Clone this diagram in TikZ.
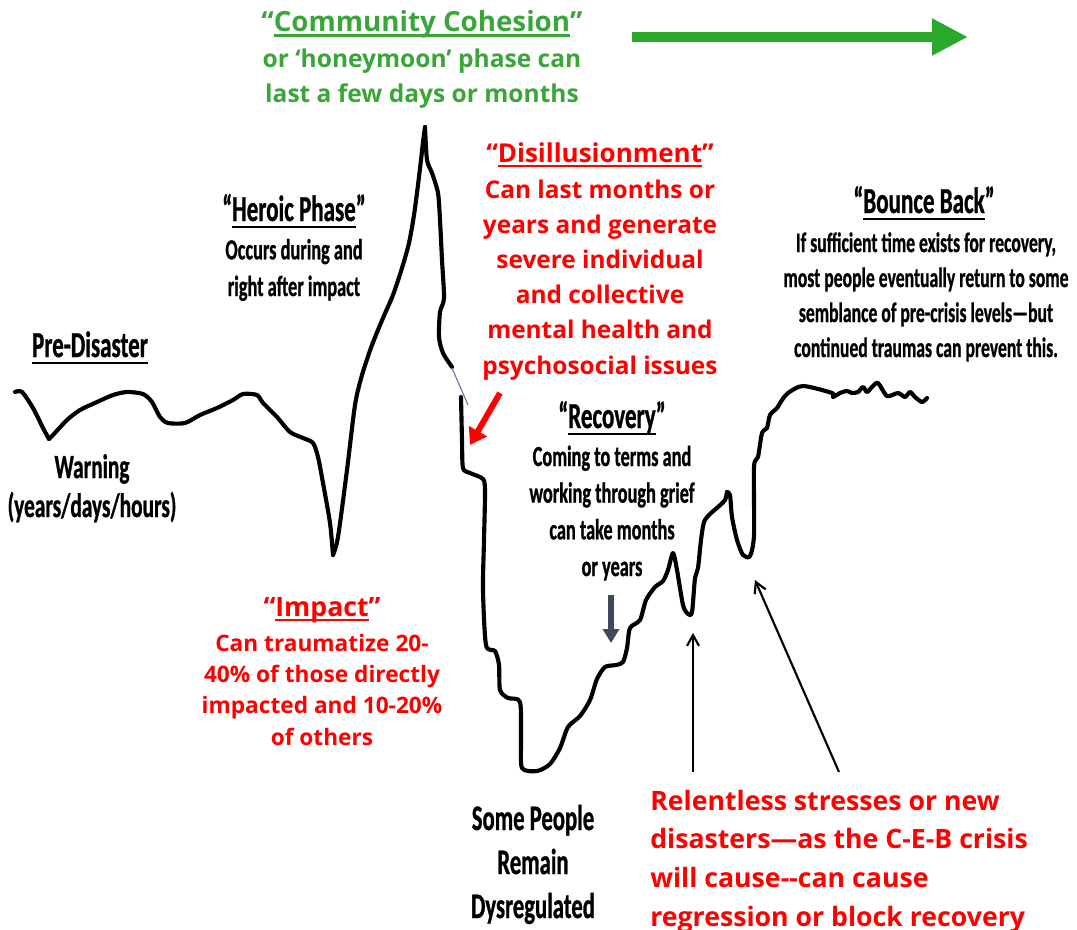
\documentclass[tikz,border=0pt]{standalone}
\usepackage{fontspec}
\usepackage{tikz}
\usetikzlibrary{arrows.meta}
\newfontfamily\opsans{Open Sans}
\newfontfamily\carcond[FakeStretch=0.63, BoldFeatures={FakeBold=0.8}]{Carlito}
\definecolor{grn}{HTML}{3AA63A}
\definecolor{grnar}{HTML}{2BA82B}
\definecolor{rd}{HTML}{FF0000}
\definecolor{slate}{HTML}{3E4A5B}
\definecolor{lil}{HTML}{8A6FB5}
\newcommand\ulw[1]{\setbox0\hbox{#1}\rlap{\rule[-0.2em]{\wd0}{0.075em}}\box0}
\newcommand\fsz[2]{\fontsize{#1}{#2}\selectfont}
\tikzset{
  txt/.style     ={inner sep=0pt, align=center, anchor=base},
  grtitle/.style ={txt, text=grn, font=\opsans\bfseries\fsz{20.8pt}{26pt}},
  grbody/.style  ={txt, text=grn, font=\opsans\bfseries\fsz{18.4pt}{26.25pt}},
  rdtitle/.style ={txt, text=rd, font=\opsans\bfseries\fsz{19.5pt}{26pt}},
  rdbody/.style  ={txt, text=rd, font=\opsans\bfseries\fsz{18.3pt}{26.4pt}},
  imptitle/.style={txt, text=rd, font=\opsans\bfseries\fsz{20pt}{26pt}},
  impbody/.style ={txt, text=rd, font=\opsans\bfseries\fsz{17pt}{23.5pt}},
  reltxt/.style  ={txt, align=left, anchor=base west, text=rd, font=\opsans\bfseries\fsz{20pt}{28.9pt}},
  bktitle/.style ={txt, font=\carcond\bfseries\fsz{27.4pt}{30pt}},
  bkbody/.style  ={txt, font=\carcond\bfseries\fsz{21.8pt}{27.5pt}},
  bksmall/.style ={txt, font=\carcond\bfseries\fsz{21pt}{26.25pt}},
  bkwarn/.style  ={txt, font=\carcond\bfseries\fsz{25.4pt}{29.25pt}},
  bkbig/.style   ={txt, font=\carcond\bfseries\fsz{27pt}{33pt}},
  curve/.style   ={line width=3.1pt, line cap=round, line join=round},
  grar/.style    ={-{Triangle[length=27pt,width=26pt]}, line width=8pt, draw=grnar},
  rdar/.style    ={-{Triangle[length=12pt,width=15pt]}, line width=4.5pt, draw=rd},
  slar/.style    ={-{Triangle[length=10.5pt,width=12pt]}, line width=5pt, draw=slate},
  bkar/.style    ={-{Straight Barb[length=8pt,width=9pt]}, line width=1.6pt},
}
\begin{document}
\begin{tikzpicture}[x=0.75pt,y=-0.75pt]
\useasboundingbox (0,0) rectangle (1077,929);
\node[grtitle] (cohtitle) at (422,31) {“\ulw{Community Cohesion}”};
\node[grbody] (cohbody) at (422,102) {or ‘honeymoon’ phase can\\last a few days or months};
\node[rdtitle] (distitle) at (600,162) {“\ulw{Disillusionment}”};
\node[rdbody] (disbody) at (600,374)
  {Can last months or\\years and generate\\severe individual\\and collective\\mental health and\\psychosocial issues};
\node[bktitle] (herotitle) at (294,221) {“\ulw{Heroic Phase}”};
\node[bkbody] (herobody) at (294,296) {Occurs during and\\right after impact};
\node[bktitle] (pretitle) at (90,357) {\ulw{Pre-Disaster}};
\node[bkwarn] (warning) at (92,517) {Warning\\(years/days/hours)};
\node[imptitle] (imptitle) at (322,616) {“\ulw{Impact}”};
\node[impbody] (impbody) at (322,745)
  {Can traumatize 20-\\40\% of those directly\\impacted and 10-20\%\\of others};
\node[bktitle] (rectitle) at (612,428) {“\ulw{Recovery}”};
\node[bkbody] (recbody) at (612,576)
  {Coming to terms and\\working through grief\\can take months\\or years};
\node[bktitle] (boutitle) at (924,213) {“\ulw{Bounce Back}”};
\node[bksmall] (boubody) at (926,357)
  {If sufficient time exists for recovery,\\most people eventually return to some\\semblance of pre-crisis levels—but\\continued traumas can prevent this.};
\node[bkbig] (remain) at (533,918) {Some People\\Remain\\Dysregulated};
\node[reltxt] (relent) at (650,926)
  {Relentless stresses or new\\disasters—as the C-E-B crisis\\will cause-{}-can cause\\regression or block recovery};
\draw[curve] plot[smooth, tension=0.45] coordinates {(15,392) (22,392) (33,408) (43,428) (49,439)};
\draw[curve] plot[smooth, tension=0.45] coordinates {(49,439) (53,435) (67,420) (80,410) (97,402)
  (113,395) (127,392) (143,394) (152,402) (160,417) (168,423) (185,423) (200,415) (217,408)
  (233,400) (243,394) (257,395) (263,403) (277,417) (290,432) (303,438) (313,443) (318,457)
  (323,483) (330,523) (333,555)};
\draw[curve] plot[smooth, tension=0.45] coordinates {(333,555) (338,537) (347,470) (355,405)
  (362,375) (372,345) (383,318) (393,295) (402,268) (409,243) (414,215) (418,185) (421,160)
  (423,142) (425,127)};
\draw[curve] plot[smooth, tension=0.45] coordinates {(425,127) (427,160) (432,173) (438,193)
  (440,220) (442,260) (444,298) (440,312) (439,337) (443,353) (452,367)};
\draw[curve] plot[smooth, tension=0.45] coordinates {(461,397) (462,440) (463,468) (470,473)
  (483,479) (485,492) (484,540) (483,590) (486,645) (495,651) (499,665) (500,690) (508,698)
  (520,702) (521,740) (522,768) (537,771) (550,764) (560,748) (568,727) (580,716) (590,700)
  (597,679) (605,667) (616,665) (623,662) (627,648) (630,628) (640,620) (646,600) (655,587)
  (663,581) (668,570) (673,553) (677,570) (683,605) (688,614) (692,612) (695,578) (698,568)
  (701,540) (704,522) (710,514) (718,507) (725,500) (727,492)};
\draw[curve] plot[smooth, tension=0.45] coordinates {(727,492) (730,495) (732,517) (737,540)
  (743,555) (750,556) (754,535) (754,467) (758,457) (762,433) (767,428) (770,415) (777,408)
  (782,400) (788,393) (803,386) (832,393) (833,397) (840,393) (847,391) (852,393) (858,392)
  (863,387) (867,392) (872,387) (878,383) (887,396) (898,393) (905,397) (910,392) (915,397)
  (922,402) (927,398)};
\coordinate (grA) at (632,37);
\coordinate (grB) at (968,37);
\coordinate (rdA) at (500,393);
\coordinate (rdB) at (470,445);
\coordinate (slA) at (611,595);
\coordinate (slB) at (611,643);
\coordinate (lilA) at (452,368);
\coordinate (lilB) at (468,405);
\coordinate (stA) at (693,772);
\coordinate (stB) at (693,633);
\coordinate (bbA) at (839,772);
\coordinate (bbB) at (755,580);
\draw[grar] (grA) -- (grB);
\draw[rdar] (rdA) -- (rdB);
\draw[slar] (slA) -- (slB);
\draw[lil, line width=0.9pt] (lilA) -- (lilB);
\draw[bkar] (stA) -- (stB);
\draw[bkar] (bbA) -- (bbB);
\end{tikzpicture}
\end{document}
